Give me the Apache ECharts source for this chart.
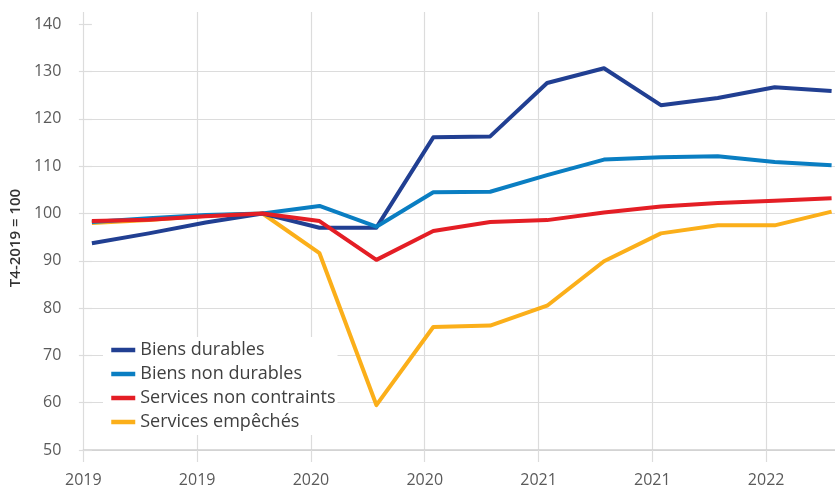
<!DOCTYPE html>
<html>
<head>
<meta charset="utf-8">
<script src="https://cdn.jsdelivr.net/npm/echarts@6/dist/echarts.min.js"></script>
<style>
html,body{margin:0;padding:0;background:#fff;}
#chart{width:835px;height:488px;}
</style>
</head>
<body>
<div id="chart"></div>
<script>
// Quarters T1-2019 .. T2-2022 (x = quarter index)
const quarters = ['T1-2019','T2-2019','T3-2019','T4-2019','T1-2020','T2-2020','T3-2020','T4-2020','T1-2021','T2-2021','T3-2021','T4-2021','T1-2022','T2-2022'];
const xTickLabels = ['2019','2019','2020','2020','2021','2021','2022'];
const yTicks = [50,60,70,80,90,100,110,120,130,140];

const biensDurables        = [93.7, 95.8, 98.1, 100, 97.0, 97.0, 116.1, 116.3, 127.6, 130.7, 122.9, 124.4, 126.7, 125.9];
const biensNonDurables     = [98.2, 99.0, 99.7, 100, 101.6, 97.2, 104.5, 104.6, 108.1, 111.4, 111.9, 112.1, 110.9, 110.2];
const servicesNonContraints= [98.4, 98.7, 99.4, 100, 98.4, 90.2, 96.3, 98.2, 98.6, 100.2, 101.5, 102.2, 102.7, 103.2];
const servicesEmpeches     = [98.0, 98.6, 99.5, 100, 91.6, 59.5, 76.0, 76.3, 80.5, 89.9, 95.8, 97.5, 97.5, 100.4];

const seriesNames = ['Biens durables','Biens non durables','Services non contraints','Services empêchés'];
const seriesValues = [biensDurables, biensNonDurables, servicesNonContraints, servicesEmpeches];
const colors = ['#213F92','#0A7EC2','#E41E25','#FBAF1A'];

const FONT = 'Open Sans';
const X_MIN = -0.15, X_MAX = 13.06, X_INT = 2;
const gridColor = '#dcdcdc';

const chart = echarts.init(document.getElementById('chart'), null, {renderer:'canvas'});

const series = seriesNames.map((name, si) => ({
  name: name,
  type: 'line',
  data: seriesValues[si].map((v, i) => [i, v]),
  symbol: 'none',
  showSymbol: false,
  z: si === 3 ? 1 : 2 + si,
  lineStyle: {width: 4, color: colors[si], join: 'round'},
  itemStyle: {color: colors[si]},
  emphasis: {disabled: true},
  animation: false
}));

chart.setOption({
  animation: false,
  color: colors,
  grid: {left: 82, right: 0, top: 12, bottom: 36.3, containLabel: false},
  xAxis: {
    type: 'value',
    min: X_MIN, max: X_MAX, interval: X_INT,
    axisLine: {show: true, lineStyle: {color: '#cfcfcf', width: 1.5}},
    axisTick: {show: true, length: 12, lineStyle: {color: gridColor, width: 1.2}},
    splitLine: {show: true, showMaxLine: false, lineStyle: {color: gridColor, width: 1.2}},
    axisLabel: {
      margin: 22,
      fontFamily: FONT, fontSize: 16, color: '#5a5a5a',
      showMaxLabel: false,
      formatter: function (v) {
        const k = Math.round((v - X_MIN) / X_INT);
        if (Math.abs(v - (X_MIN + k * X_INT)) > 1e-6) return '';
        return xTickLabels[k] || '';
      }
    }
  },
  yAxis: {
    type: 'value',
    min: 50, max: 142.6, interval: 10,
    name: 'T4-2019 = 100',
    nameLocation: 'middle',
    nameRotate: 90,
    nameGap: 58,
    nameTextStyle: {fontFamily: FONT, fontSize: 15, fontWeight: 600, color: '#333', padding: [0, 14, 0, 0]},
    axisLine: {show: false},
    axisTick: {show: true, inside: false, length: 13, customValues: yTicks, lineStyle: {color: gridColor, width: 1.2}},
    splitLine: {show: true, showMaxLine: false, lineStyle: {color: gridColor, width: 1.2}},
    axisLabel: {
      margin: 22, customValues: yTicks,
      fontFamily: FONT, fontSize: 16, color: '#5a5a5a'
    }
  },
  legend: {
    orient: 'vertical',
    left: 103, top: 337,
    backgroundColor: '#ffffff',
    padding: [4, 2, 4, 6],
    itemWidth: 24, itemHeight: 14, itemGap: 6,
    itemStyle: {opacity: 0},
    lineStyle: {width: 4.5, cap: 'butt'},
    textStyle: {fontFamily: FONT, fontSize: 18, color: '#404040'},
    selectedMode: false,
    data: seriesNames
  },
  series: series
});
</script>
</body>
</html>
